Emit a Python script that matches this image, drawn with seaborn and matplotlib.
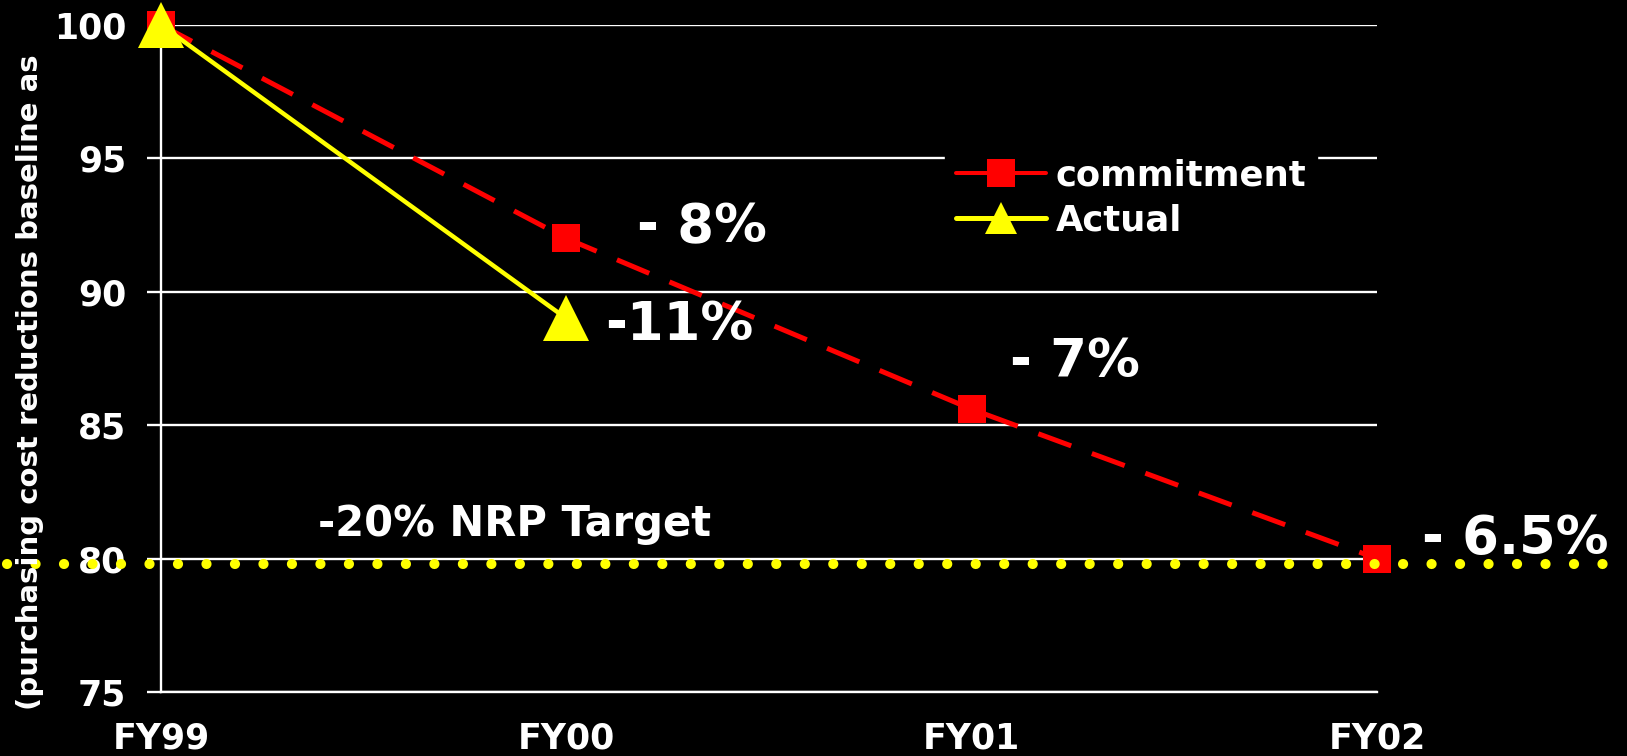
import numpy as np
import pandas as pd
import seaborn as sns
import matplotlib.pyplot as plt
from matplotlib.lines import Line2D

# data
years = ['FY99', 'FY00', 'FY01', 'FY02']
commitment = [100, 92, 85.6, 80]
actual = [100, 89]
target = 79.8
yticks = [75, 80, 85, 90, 95, 100]

step_labels = ['- 8%', '-11%', '- 7%', '- 6.5%']
target_label = '-20% NRP Target'
ylabel = '(purchasing cost reductions baseline as'

sns.set_theme(style='white', rc={'figure.facecolor': 'black',
                                 'axes.facecolor': 'black',
                                 'savefig.facecolor': 'black'})
plt.rcParams['font.family'] = ['DejaVu Sans']
plt.rcParams['font.weight'] = 'bold'

W, H = 1627, 756
fig = plt.figure(figsize=(W / 100, H / 100), dpi=100)
ax = fig.add_axes([161 / W, 64 / H, 1216 / W, 667 / H])

df_c = pd.DataFrame({'pos': np.arange(len(commitment)), 'value': commitment})
df_a = pd.DataFrame({'pos': np.arange(len(actual)), 'value': actual})

sns.lineplot(data=df_c, x='pos', y='value', ax=ax, color='#ff0000', lw=3.6,
             linestyle=(0, (7, 4.4)), marker='s', markersize=20,
             markeredgewidth=0, zorder=3, clip_on=False)
sns.lineplot(data=df_a, x='pos', y='value', ax=ax, color='#ffff00', lw=3.2,
             marker='^', markersize=33, markeredgewidth=0, zorder=4,
             clip_on=False)

# dotted target line running across the whole slide
ax.axhline(target, xmin=-0.1266, xmax=1.21, color='#ffff00', lw=7.3,
           linestyle=(0, (0.01, 2.8)), dash_capstyle='round',
           clip_on=False, zorder=6)

ax.set_xlim(0, 3)
ax.set_ylim(75, 100)
ax.set_yticks(yticks)
ax.set_xticks(range(len(years)))
ax.set_xticklabels(years)
ax.set_xlabel('')
ax.set_ylabel('')

ax.grid(axis='y', color='white', lw=1.7)
ax.set_axisbelow(True)
for s in ['top', 'right']:
    ax.spines[s].set_visible(False)
for s in ['left', 'bottom']:
    ax.spines[s].set_color('white')
    ax.spines[s].set_linewidth(1.7)

ax.tick_params(axis='y', colors='white', left=True, length=10, width=1.7,
               pad=15, labelsize=25, direction='out')
ax.tick_params(axis='x', colors='white', bottom=False, length=0, pad=21,
               labelsize=25)

handles = [Line2D([], [], color='#ff0000', lw=2.9, marker='s', ms=20, mew=0),
           Line2D([], [], color='#ffff00', lw=3.6, marker='^', ms=23, mew=0,
                  solid_capstyle='round')]
leg = ax.legend(handles, ['commitment', 'Actual'], loc='upper left',
                bbox_to_anchor=(945 / W, 1 - 148 / H), bbox_transform=fig.transFigure,
                frameon=True, facecolor='black', edgecolor='black', framealpha=1,
                fontsize=25.5, labelcolor='white', handlelength=2.55,
                handletextpad=0.28, labelspacing=0.3, borderpad=0.3,
                borderaxespad=0)
leg.set_zorder(5)

label_pos = [(1.174, 91.85), (1.095, 88.18), (2.095, 86.82), (3.111, 80.18)]
for (x, y), lab in zip(label_pos, step_labels):
    ax.text(x, y, lab, color='white', fontsize=38, fontweight='bold',
            ha='left', va='baseline')

ax.text(0.387, 80.86, target_label, color='white', fontsize=30,
        fontweight='bold', ha='left', va='baseline')

fig.text(30 / W, 1 - 710 / H, ylabel, rotation=90, ha='center', va='bottom',
         fontsize=21, color='white', fontweight='bold')

fig.savefig('out.png', dpi=100, facecolor='black')
